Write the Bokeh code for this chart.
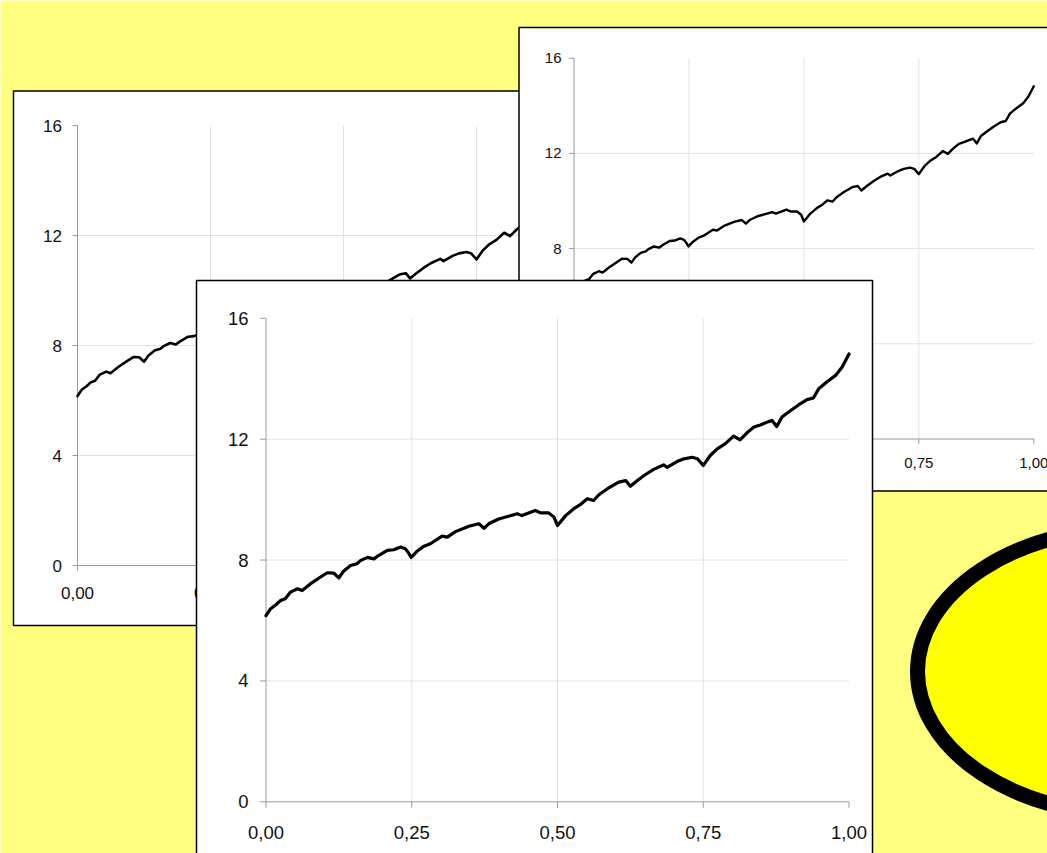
from bokeh.plotting import figure
from bokeh.models import Range1d
from bokeh.core.properties import value
from bokeh.embed import file_html
from bokeh.resources import INLINE

# ---- data ----
x_vals = [0.000, 0.008, 0.017, 0.025, 0.033, 0.042, 0.054, 0.062, 0.068, 0.076,
          0.093, 0.105, 0.116, 0.125, 0.133, 0.145, 0.156, 0.162, 0.174, 0.185,
          0.193, 0.208, 0.219, 0.231, 0.239, 0.244, 0.249, 0.259, 0.271, 0.282,
          0.302, 0.311, 0.325, 0.348, 0.365, 0.374, 0.382, 0.399, 0.416, 0.431,
          0.439, 0.462, 0.471, 0.485, 0.494, 0.500, 0.514, 0.528, 0.539, 0.551,
          0.562, 0.571, 0.588, 0.605, 0.617, 0.625, 0.637, 0.651, 0.665, 0.682,
          0.688, 0.705, 0.717, 0.731, 0.740, 0.750, 0.762, 0.774, 0.788, 0.802,
          0.813, 0.825, 0.837, 0.848, 0.862, 0.868, 0.876, 0.885, 0.900, 0.914,
          0.928, 0.939, 0.948, 0.963, 0.977, 0.988, 1.000]
y_vals = [6.16, 6.39, 6.52, 6.66, 6.72, 6.94, 7.05, 6.99, 7.08, 7.21,
          7.43, 7.58, 7.57, 7.41, 7.63, 7.82, 7.88, 7.98, 8.09, 8.04,
          8.15, 8.32, 8.34, 8.43, 8.37, 8.25, 8.09, 8.29, 8.46, 8.54,
          8.79, 8.76, 8.94, 9.12, 9.20, 9.05, 9.20, 9.36, 9.45, 9.53,
          9.47, 9.64, 9.56, 9.56, 9.42, 9.14, 9.47, 9.70, 9.83, 10.03,
          9.97, 10.16, 10.39, 10.58, 10.63, 10.44, 10.63, 10.83, 11.00, 11.15,
          11.07, 11.26, 11.35, 11.40, 11.35, 11.13, 11.46, 11.68, 11.85, 12.10,
          11.98, 12.21, 12.40, 12.47, 12.58, 12.62, 12.42, 12.73, 12.95, 13.14,
          13.31, 13.36, 13.67, 13.91, 14.11, 14.38, 14.82]

x_ticks = [0.0, 0.25, 0.5, 0.75, 1.0]
x_tick_labels = ["0,00", "0,25", "0,50", "0,75", "1,00"]
y_ticks = [0, 4, 8, 12, 16]
y_tick_labels = ["0", "4", "8", "12", "16"]
x_grid = [0.25, 0.5, 0.75]
y_grid = [4, 8, 12]

# ---- layout ----
W, H = 1047, 853
BG = "#ffff80"
FONT = value("Liberation Sans")

p = figure(width=W, height=H, output_backend="svg", toolbar_location=None,
           x_range=Range1d(0, W), y_range=Range1d(H, 0),
           x_axis_type=None, y_axis_type=None, min_border=0,
           background_fill_color=BG, border_fill_color=BG,
           outline_line_color=None)

# decorative ellipse (bottom right)
p.ellipse(x=1135, y=671, width=436, height=288, fill_color="#ffff00",
          line_color="black", line_width=15)

panels = [
    # frame (l, t, r, b), X0, X1, Y0, S, font px, line width, ylab off, xlab off, tick len
    dict(frame=(13, 90.5, 650, 625), X0=77, X1=609, Y0=565, S=27.5,
         fs=17, lw=2.6, yo=15.5, xo=27, tk=5),
    dict(frame=(518.5, 27, 1080, 490.5), X0=573.5, X1=1033.3, Y0=438.5, S=23.8,
         fs=15, lw=2.4, yo=12.5, xo=23.5, tk=5),
    dict(frame=(196, 280, 872, 880), X0=265.5, X1=848.5, Y0=801.3, S=30.22,
         fs=18.5, lw=3.2, yo=17.5, xo=31, tk=6),
]

for i, pn in enumerate(panels):
    l, t, r, b = pn["frame"]
    p.quad(left=l, right=r, top=t, bottom=b, fill_color="white",
           line_color="black", line_width=1.5)
    X0, X1, Y0, S = pn["X0"], pn["X1"], pn["Y0"], pn["S"]
    xr, yr = f"x{i}", f"y{i}"
    p.extra_x_ranges[xr] = Range1d((0 - X0) / (X1 - X0), (W - X0) / (X1 - X0))
    p.extra_y_ranges[yr] = Range1d((Y0 - H) / S, Y0 / S)
    kw = dict(x_range_name=xr, y_range_name=yr)

    # grid
    p.segment(x0=x_grid, y0=[y_ticks[0]] * 3, x1=x_grid, y1=[y_ticks[-1]] * 3,
              line_color="#e2e2e2", line_width=1, **kw)
    p.segment(x0=[x_ticks[0]] * 3, y0=y_grid, x1=[x_ticks[-1]] * 3, y1=y_grid,
              line_color="#e2e2e2", line_width=1, **kw)
    # axes
    dx = pn["tk"] / (X1 - X0)
    dy = pn["tk"] / S
    p.segment(x0=[0, 0], y0=[0, 0], x1=[0, 1], y1=[16, 0],
              line_color="#9a9a9a", line_width=1, **kw)
    p.segment(x0=[-dx] * len(y_ticks), y0=y_ticks, x1=[0] * len(y_ticks), y1=y_ticks,
              line_color="#9a9a9a", line_width=1, **kw)
    p.segment(x0=x_ticks, y0=[0] * len(x_ticks), x1=x_ticks, y1=[-dy] * len(x_ticks),
              line_color="#9a9a9a", line_width=1, **kw)
    # labels
    p.text(x=[0] * len(y_ticks), y=y_ticks, text=y_tick_labels,
           x_offset=-pn["yo"], text_align="right", text_baseline="middle",
           text_font=FONT, text_font_size=f"{pn['fs']}px", text_color="#111111", **kw)
    p.text(x=x_ticks, y=[0] * len(x_ticks), text=x_tick_labels,
           y_offset=pn["xo"], text_align="center", text_baseline="middle",
           text_font=FONT, text_font_size=f"{pn['fs']}px", text_color="#111111", **kw)
    # data line
    p.line(x_vals, y_vals, line_color="black", line_width=pn["lw"],
           line_join="round", line_cap="round", **kw)

open("out.html", "w").write(file_html(p, INLINE))
